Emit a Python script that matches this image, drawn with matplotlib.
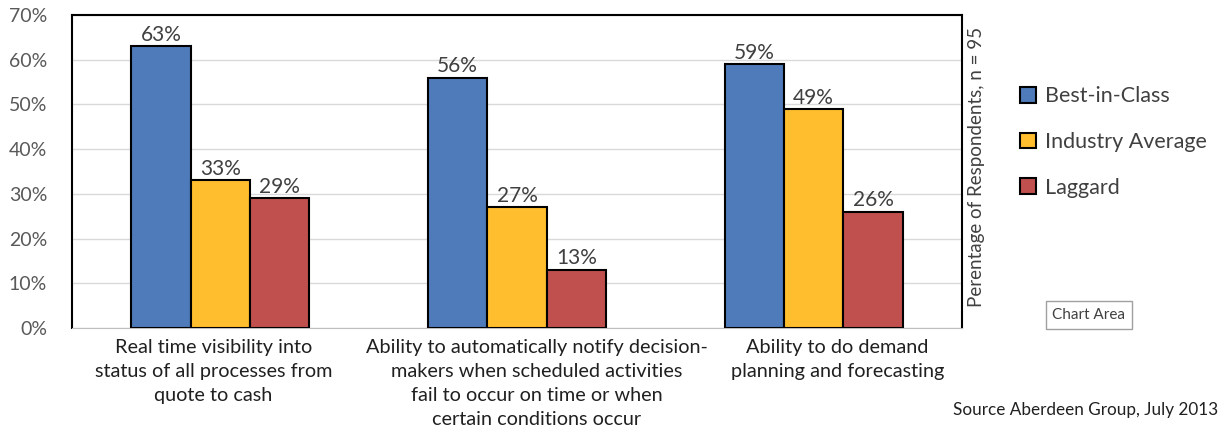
import matplotlib.pyplot as plt
import matplotlib.transforms as mtransforms
import numpy as np

categories = [
    "Real time visibility into\nstatus of all processes from\nquote to cash",
    "Ability to automatically notify decision-\nmakers when scheduled activities\nfail to occur on time or when\ncertain conditions occur",
    "Ability to do demand\nplanning and forecasting",
]
series_names = ["Best-in-Class", "Industry Average", "Laggard"]
best_in_class = [63, 56, 59]
industry_average = [33, 27, 49]
laggard = [29, 13, 26]
yticks = [0, 10, 20, 30, 40, 50, 60, 70]

plt.rcParams["font.family"] = ["Lato", "DejaVu Sans"]

colors = ["#4F7BBA", "#FFBE2E", "#C0504D"]
fig = plt.figure(figsize=(12.24, 4.38), dpi=100)
ax = fig.add_axes([72 / 1224, 1 - 328 / 438, (962 - 72) / 1224, (328 - 15) / 438])

x = np.arange(len(categories))
w = 0.2
for k, (name, vals) in enumerate(zip(series_names, [best_in_class, industry_average, laggard])):
    bars = ax.bar(x + (k - 1) * w, vals, w, color=colors[k], edgecolor="black",
                  linewidth=1.5, label=name, zorder=3)
    ax.bar_label(bars, labels=[f"{v}%" for v in vals], padding=1, fontsize=15, color="#404040")

ax.set_xlim(-0.5, 2.5)
ax.set_ylim(0, 70)
ax.set_yticks(yticks)
ax.set_yticklabels([f"{t}%" for t in yticks], fontsize=14, color="#595959")
ax.tick_params(axis="y", length=0, pad=18)
ax.tick_params(axis="x", length=0, pad=8)
ax.set_xticks(x)
ax.set_xticklabels(categories, fontsize=14.3, color="#202020", linespacing=1.5, va="top")
# Excel wraps the labels a bit off the group centre
for lab, dx in zip(ax.get_xticklabels(), [-7, 20, 24]):
    lab.set_transform(lab.get_transform() + mtransforms.ScaledTranslation(dx / 100, 0, fig.dpi_scale_trans))
ax.grid(True, axis="y", color="#D9D9D9", linewidth=1, zorder=0)
for s in ["top", "left", "right"]:
    ax.spines[s].set_color("black")
    ax.spines[s].set_linewidth(1.5)
ax.spines["bottom"].set_color("#BFBFBF")

fig.text(968 / 1224, 1 - 167 / 438, "Perentage of Respondents, n = 95", rotation=90,
         ha="left", va="center", fontsize=13.5, color="#404040")

ax.legend(loc="center left", bbox_to_anchor=(1020 / 1224, 1 - 142 / 438),
          bbox_transform=fig.transFigure, frameon=False, fontsize=15.5,
          handlelength=0.75, handleheight=0.75, handletextpad=0.4, labelspacing=1.2,
          borderpad=0, borderaxespad=0, labelcolor="#404040")

fig.text(1089 / 1224, 1 - 315 / 438, "Chart Area", ha="center", va="center", fontsize=11,
         color="#404040",
         bbox=dict(boxstyle="square,pad=0.45", facecolor="white", edgecolor="#A0A0A0", linewidth=1))

fig.text(1218 / 1224, 1 - 410 / 438, "Source Aberdeen Group, July 2013", ha="right", va="center",
         fontsize=12.3, color="#202020")

fig.savefig("out.png", dpi=100)
